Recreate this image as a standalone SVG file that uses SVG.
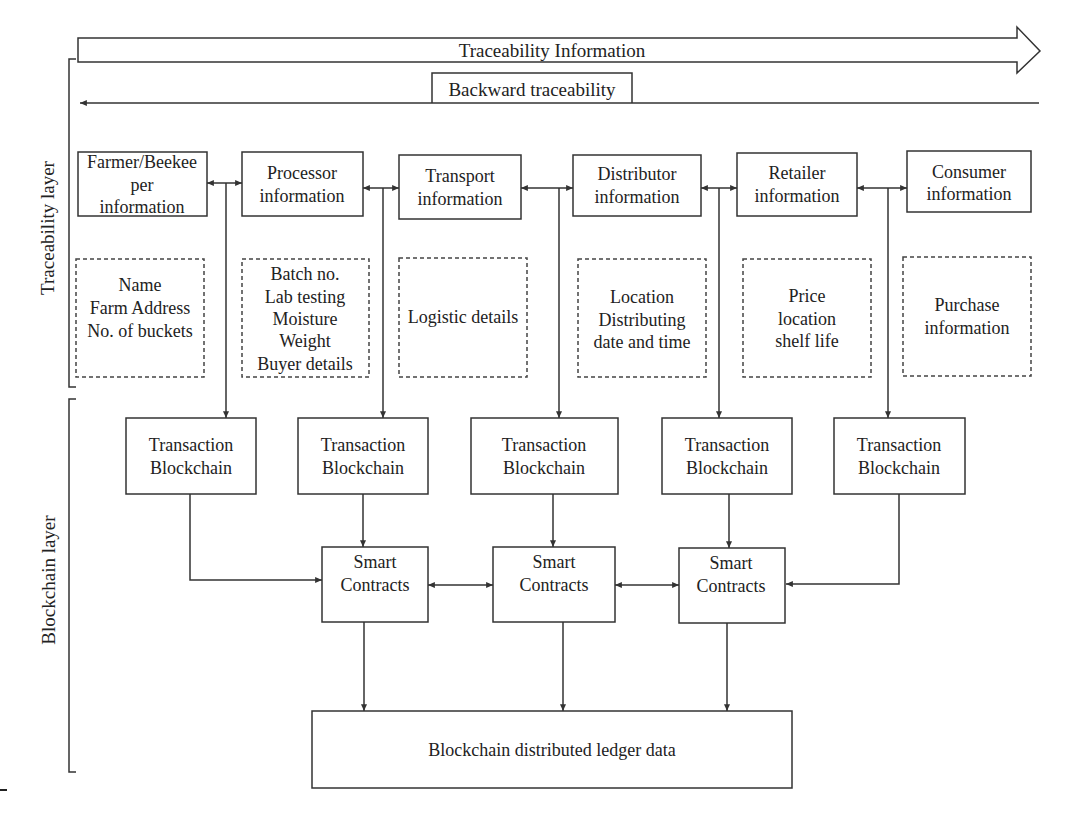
<svg xmlns="http://www.w3.org/2000/svg" width="1079" height="833" viewBox="0 0 1079 833">
<defs>
<style>
.box{fill:#fff;stroke:#333;stroke-width:1.5}
.dash{fill:#fff;stroke:#444;stroke-width:1.5;stroke-dasharray:4 3}
.ln{fill:none;stroke:#333;stroke-width:1.5}
.t{font-family:"Liberation Serif","Times New Roman",serif;font-size:18px;fill:#222;text-anchor:middle}
.h{font-family:"Liberation Serif","Times New Roman",serif;font-size:19px;fill:#222;text-anchor:middle}
.a{marker-end:url(#ah)}
.aa{marker-start:url(#ah);marker-end:url(#ah)}
</style>
<marker id="ah" viewBox="0 0 8 7" refX="8" refY="3.5" markerWidth="7" markerHeight="6" markerUnits="userSpaceOnUse" orient="auto-start-reverse">
<path d="M0,0 L8,3.5 L0,7 z" fill="#333"/>
</marker>
</defs>
<rect width="1079" height="833" fill="#fff"/>

<g id="traceability-information">
<polygon class="box" points="78,38 1017,38 1017,27 1040,51 1017,73 1017,62 78,62"/>
<text class="h" x="552" y="57">Traceability Information</text>
</g>

<g id="backward-traceability">
<path class="ln" d="M432,103 V73 H632 V103"/>
<line class="ln a" x1="1039" y1="103" x2="80" y2="103"/>
<text class="h" x="532" y="96">Backward traceability</text>
</g>

<g id="layer-labels">
<path class="ln" d="M76,59 H69 V387 H76"/>
<path class="ln" d="M76,399 H69 V772 H76"/>
<text class="h" transform="translate(54,228) rotate(-90)">Traceability layer</text>
<text class="h" transform="translate(55,580) rotate(-90)">Blockchain layer</text>
<line x1="0" y1="790" x2="7" y2="790" stroke="#222" stroke-width="2"/>
</g>

<g id="farmer">
<rect class="box" x="78" y="152" width="129" height="64"/>
<text class="t" x="142" y="168">Farmer/Beekee</text>
<text class="t" x="142" y="191">per</text>
<text class="t" x="142" y="213">information</text>
</g>
<g id="processor">
<rect class="box" x="242" y="152" width="121" height="64"/>
<text class="t" x="302" y="179">Processor</text>
<text class="t" x="302" y="202">information</text>
</g>
<g id="transport">
<rect class="box" x="399" y="155" width="122" height="64"/>
<text class="t" x="460" y="182">Transport</text>
<text class="t" x="460" y="205">information</text>
</g>
<g id="distributor">
<rect class="box" x="573" y="155" width="128" height="61"/>
<text class="t" x="637" y="180">Distributor</text>
<text class="t" x="637" y="203">information</text>
</g>
<g id="retailer">
<rect class="box" x="737" y="153" width="120" height="63"/>
<text class="t" x="797" y="179">Retailer</text>
<text class="t" x="797" y="202">information</text>
</g>
<g id="consumer">
<rect class="box" x="907" y="151" width="124" height="61"/>
<text class="t" x="969" y="178">Consumer</text>
<text class="t" x="969" y="200">information</text>
</g>

<g id="farmer-details">
<rect class="dash" x="76" y="259" width="128" height="118"/>
<text class="t" x="140" y="291">Name</text>
<text class="t" x="140" y="314">Farm Address</text>
<text class="t" x="140" y="337">No. of buckets</text>
</g>
<g id="processor-details">
<rect class="dash" x="242" y="259" width="127" height="118"/>
<text class="t" x="305" y="280">Batch no.</text>
<text class="t" x="305" y="303">Lab testing</text>
<text class="t" x="305" y="325">Moisture</text>
<text class="t" x="305" y="347">Weight</text>
<text class="t" x="305" y="370">Buyer details</text>
</g>
<g id="transport-details">
<rect class="dash" x="399" y="258" width="128" height="119"/>
<text class="t" x="463" y="323">Logistic details</text>
</g>
<g id="distributor-details">
<rect class="dash" x="578" y="259" width="128" height="118"/>
<text class="t" x="642" y="303">Location</text>
<text class="t" x="642" y="326">Distributing</text>
<text class="t" x="642" y="348">date and time</text>
</g>
<g id="retailer-details">
<rect class="dash" x="743" y="259" width="128" height="118"/>
<text class="t" x="807" y="302">Price</text>
<text class="t" x="807" y="325">location</text>
<text class="t" x="807" y="347">shelf life</text>
</g>
<g id="consumer-details">
<rect class="dash" x="903" y="257" width="128" height="119"/>
<text class="t" x="967" y="311">Purchase</text>
<text class="t" x="967" y="334">information</text>
</g>

<g id="tb1">
<rect class="box" x="126" y="418" width="130" height="76"/>
<text class="t" x="191" y="451">Transaction</text>
<text class="t" x="191" y="474">Blockchain</text>
</g>
<g id="tb2">
<rect class="box" x="298" y="418" width="130" height="76"/>
<text class="t" x="363" y="451">Transaction</text>
<text class="t" x="363" y="474">Blockchain</text>
</g>
<g id="tb3">
<rect class="box" x="471" y="418" width="147" height="76"/>
<text class="t" x="544" y="451">Transaction</text>
<text class="t" x="544" y="474">Blockchain</text>
</g>
<g id="tb4">
<rect class="box" x="662" y="418" width="130" height="76"/>
<text class="t" x="727" y="451">Transaction</text>
<text class="t" x="727" y="474">Blockchain</text>
</g>
<g id="tb5">
<rect class="box" x="834" y="418" width="131" height="76"/>
<text class="t" x="899" y="451">Transaction</text>
<text class="t" x="899" y="474">Blockchain</text>
</g>

<g id="sc1">
<rect class="box" x="322" y="547" width="106" height="75"/>
<text class="t" x="375" y="568">Smart</text>
<text class="t" x="375" y="591">Contracts</text>
</g>
<g id="sc2">
<rect class="box" x="493" y="547" width="122" height="75"/>
<text class="t" x="554" y="568">Smart</text>
<text class="t" x="554" y="591">Contracts</text>
</g>
<g id="sc3">
<rect class="box" x="679" y="548" width="106" height="75"/>
<text class="t" x="731" y="569">Smart</text>
<text class="t" x="731" y="592">Contracts</text>
</g>

<g id="ledger">
<rect class="box" x="312" y="711" width="480" height="77"/>
<text class="t" x="552" y="756">Blockchain distributed ledger data</text>
</g>

<g id="connectors">
<line class="ln aa" x1="207" y1="183" x2="242" y2="183"/>
<line class="ln a" x1="226" y1="183" x2="226" y2="418"/>
<line class="ln aa" x1="363" y1="188" x2="399" y2="188"/>
<line class="ln a" x1="383" y1="188" x2="383" y2="418"/>
<line class="ln aa" x1="521" y1="188" x2="573" y2="188"/>
<line class="ln a" x1="559" y1="188" x2="559" y2="418"/>
<line class="ln aa" x1="701" y1="188" x2="737" y2="188"/>
<line class="ln a" x1="719" y1="188" x2="719" y2="418"/>
<line class="ln aa" x1="857" y1="188" x2="907" y2="188"/>
<line class="ln a" x1="888" y1="188" x2="888" y2="418"/>

<polyline class="ln a" points="190,494 190,580 322,580"/>
<line class="ln a" x1="363" y1="494" x2="363" y2="547"/>
<line class="ln a" x1="553" y1="494" x2="553" y2="547"/>
<line class="ln a" x1="729" y1="494" x2="729" y2="548"/>
<polyline class="ln a" points="899,494 899,584 786,584"/>
<line class="ln aa" x1="428" y1="585" x2="493" y2="585"/>
<line class="ln aa" x1="615" y1="585" x2="679" y2="585"/>
<line class="ln a" x1="364" y1="622" x2="364" y2="711"/>
<line class="ln a" x1="563" y1="622" x2="563" y2="711"/>
<line class="ln a" x1="727" y1="623" x2="727" y2="711"/>
</g>
</svg>
